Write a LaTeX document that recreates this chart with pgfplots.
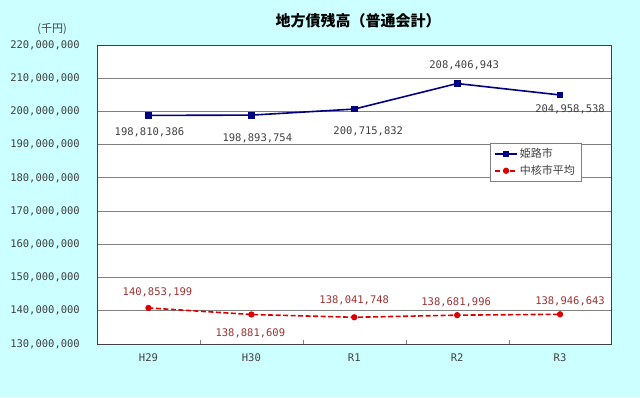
\documentclass[border=0pt]{standalone}
\usepackage{pgfplots}
\pgfplotsset{compat=1.18}
\usepackage{fontspec}
\setmainfont{Noto Sans CJK JP}
\newfontfamily\numfont{DejaVu Sans Mono}
\definecolor{bgcyan}{HTML}{CCFFFF}
\definecolor{navyline}{HTML}{000080}
\definecolor{redline}{HTML}{DD0000}
\definecolor{redlabel}{HTML}{993333}
\definecolor{txtgray}{HTML}{404040}
\definecolor{gridgray}{HTML}{808080}
\begin{document}
\begin{tikzpicture}
\useasboundingbox (0,0) rectangle (640pt,397pt);
\fill[bgcyan] (0,0) rectangle (640pt,397pt);
\node[font=\fontsize{15}{17}\selectfont\bfseries, text=black] at (358pt,376pt) {地方債残高（普通会計）};
\node[font=\fontsize{11}{13}\selectfont, text=txtgray] at (52pt,368pt) {(千円)};
\begin{axis}[
  scale only axis,
  width=514.5pt, height=299pt,
  at={(97pt,53pt)}, anchor=south west,
  axis background/.style={fill=white},
  xmin=-0.5, xmax=4.5,
  ymin=130000000, ymax=220000000,
  xtick={0,1,2,3,4},
  xticklabels={H29,H30,R1,R2,R3},
  minor xtick={0.5,1.5,2.5,3.5},
  major x tick style={draw=none},
  minor tick length=4pt,
  xtick pos=bottom,
  tick align=inside,
  ytick={130000000,140000000,150000000,160000000,170000000,180000000,190000000,200000000,210000000,220000000},
  major y tick style={draw=none},
  ytick pos=left,
  ymajorgrids,
  grid style={gridgray, line width=0.8pt},
  axis line style={txtgray, line width=0.8pt},
  scaled y ticks=false,
  yticklabel={\pgfmathprintnumber[fixed,precision=0,1000 sep={,}]{\tick}},
  /pgf/number format/assume math mode=true,
  tick label style={font=\numfont\fontsize{10.5}{12}\selectfont, text=txtgray, inner sep=0pt},
  yticklabel style={anchor=east, xshift=-17pt},
  xticklabel style={anchor=center, yshift=-14pt},
  legend style={at={(0.764,0.671)}, anchor=north west, draw=gridgray, fill=white,
    font=\fontsize{11}{13}\selectfont, text=txtgray, inner xsep=4pt, inner ysep=3pt, row sep=2pt},
  legend cell align=left,
  legend image code/.code={
    \draw[mark repeat=2,mark phase=2,#1] plot coordinates {(0pt,0pt) (11pt,0pt) (22pt,0pt)};
  },
  visualization depends on={\thisrow{dx} \as \dx},
  visualization depends on={\thisrow{dy} \as \dy},
  point meta=explicit symbolic,
  nodes near coords={\pgfplotspointmeta},
  every node near coord/.append style={anchor=center, xshift=\dx pt, yshift=\dy pt,
    font=\numfont\fontsize{10.5}{12}\selectfont, inner sep=0pt},
]
\addplot[navyline, line width=1.6pt, mark=square*, mark size=2.6pt,
  every node near coord/.append style={text=txtgray}]
  table[x=x, y=y, meta=lab] {
x y lab dx dy
0 198810386 198,810,386 1 -17
1 198893754 198,893,754 6 -23
2 200715832 200,715,832 14 -22.6
3 208406943 208,406,943 7 18.5
4 204958538 204,958,538 10 -14
};
\addlegendentry{姫路市}
\addplot[redline, line width=1.6pt, dash pattern=on 5pt off 2.5pt, mark=*, mark size=2.3pt,
  mark options={solid},
  every node near coord/.append style={text=redlabel}]
  table[x=x, y=y, meta=lab] {
x y lab dx dy
0 140853199 140,853,199 9 16
1 138881609 138,881,609 -1 -18.7
2 138041748 138,041,748 0 16.5
3 138681996 138,681,996 -1 13
4 138946643 138,946,643 10 13
};
\addlegendentry{中核市平均}
\end{axis}
\end{tikzpicture}
\end{document}
